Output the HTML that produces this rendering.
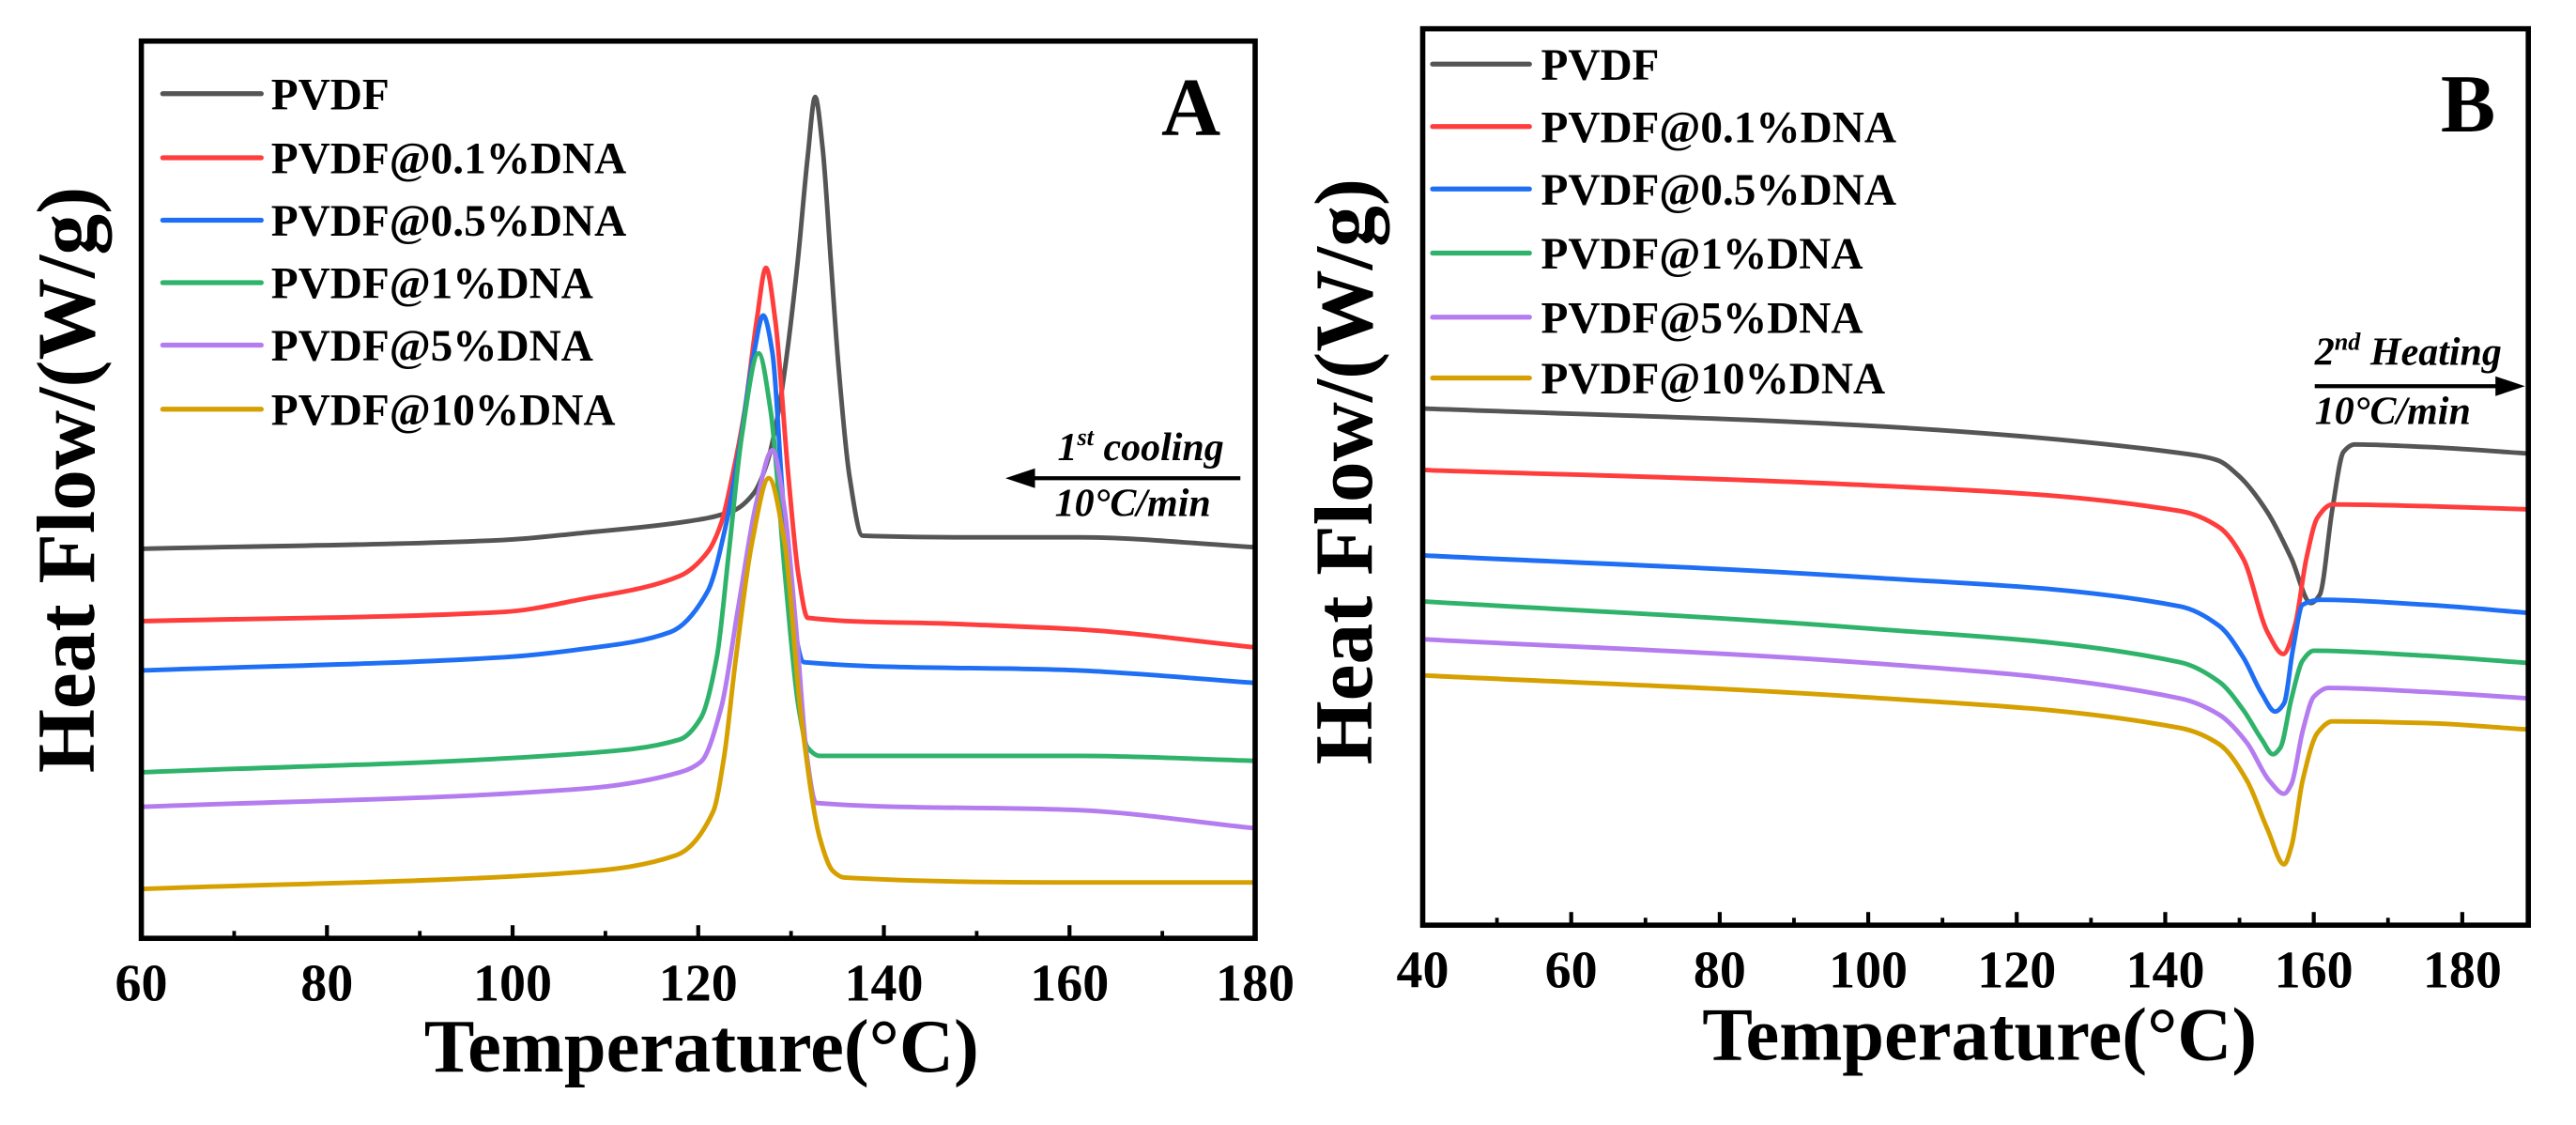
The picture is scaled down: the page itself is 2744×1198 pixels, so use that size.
<!DOCTYPE html>
<html><head><meta charset="utf-8"><style>
html,body{margin:0;padding:0;background:#fff;}
svg{display:block;}
text{font-family:"Liberation Serif",serif;font-weight:bold;fill:#000;}
</style></head><body>
<svg id="fig" width="2744" height="1198" viewBox="0 0 1568 684.6" xmlns="http://www.w3.org/2000/svg"></svg>
<script>
// ---------- Data (temperature °C, heat flow in arbitrary offset units; larger = lower on chart) ----------
const seriesNames = ["PVDF","PVDF@0.1%DNA","PVDF@0.5%DNA","PVDF@1%DNA","PVDF@5%DNA","PVDF@10%DNA"];
const seriesColors = ["#555555","#ff3d3d","#1f6ff5","#2fb36b","#b57cf0","#d6a000"];

const coolT_pvdf = [60,99,107.5,118,123.7,126,127.4,128.5,129.4,130.7,131.8,132.6,133.4,134.3,135.1,136.3,137.7,150,161,180];
const coolV_pvdf = [334,328.6,324.3,318,311,300,282,255,222,160,95,59,90,160,222,290,326,327,327,333];
const coolT_01 = [60,99,107.5,118,121,122.5,123.7,125,126.3,127.3,128.3,129.7,130.8,131.8,147.8,161,180];
const coolV_01 = [378,372.4,364.6,350.5,336,318,289,250,195,163,195,289,350,376,379.7,383,394];
const coolT_05 = [60,99,107.5,117,121,123,124.5,126,127,128,129.1,130.3,131.4,161,180];
const coolV_05 = [408,400,395,384.6,360,319,270,215,192,215,302,380,403,408,415.6];
const coolT_1 = [60,107.5,118,120.3,122,123.3,124.7,126.5,127.8,129.4,130.8,131.8,133.1,161,180];
const coolV_1 = [470,458.5,450,436.7,400,336,265,215,250,353,430,455,460,460,463];
const coolT_5 = [60,107.5,118,120.3,122.5,124.3,126.3,128,129.3,130.6,131.7,132.7,161,180];
const coolV_5 = [491,480,470,463.5,430,370,305,274,310,386,460,488.6,493,504];
const coolT_10 = [60,107.5,117.6,121.6,122.8,124,125.8,127.6,129.3,131.1,133.1,134.5,135.7,161,180];
const coolV_10 = [541,530.6,520.5,494,460,403,330,291,330,436.7,510,530,534,537,537];

const heatT_pvdf = [40,98.6,142,147,150,153.8,157,159.6,160.8,162.5,164,165.5,175,189];
const heatV_pvdf = [248.6,258.7,275.7,280,290,312,340,367,362,310,275,270.5,272,276];
const heatT_01 = [40,98.6,142,147.3,150.5,153.8,155.9,157.5,159,160.5,162.5,175,189];
const heatV_01 = [286,295,311,321,340,385,398,380,340,315,307,308,310];
const heatT_05 = [40,98.6,142,147.3,150.5,153,154.8,156,157.2,158.5,161,175,189];
const heatV_05 = [338,351,369,381,400,422,433,428,395,368,365,368,373];
const heatT_1 = [40,98.6,142,147.3,150.5,153,154.5,155.5,157,158.5,160,175,189];
const heatV_1 = [366,382,403,415,432,450,459,455,425,402,396,399,403.5];
const heatT_5 = [40,98.6,142,147.3,151,154,156,157,158.5,160,162,175,189];
const heatV_5 = [389,403,425,435,452,475,483,477,445,424,418.6,421,425];
const heatT_10 = [40,98.6,142,147.3,151,153.8,156,157,158.5,160.5,162.5,175,189];
const heatV_10 = [411,424,443,453,475,505,526,515,475,446,439,440,444];

const ticksA = [60,80,100,120,140,160,180];
const minorA = [70,90,110,130,150,170];
const ticksB = [40,60,80,100,120,140,160,180];
const minorB = [50,70,90,110,130,150,170,190];

// ---------- Helpers ----------
const NS = "http://www.w3.org/2000/svg";
const svg = document.getElementById("fig");
function el(tag, attrs, parent){
  const e = document.createElementNS(NS, tag);
  for (const k in attrs) e.setAttribute(k, attrs[k]);
  (parent||svg).appendChild(e);
  return e;
}
function linear(d0,d1,r0,r1){ return v => r0 + (v-d0)/(d1-d0)*(r1-r0); }
function monotonePath(pts){
  const n = pts.length;
  const dx=[], dy=[], m=[];
  for (let i=0;i<n-1;i++){ dx[i]=pts[i+1][0]-pts[i][0]; dy[i]=pts[i+1][1]-pts[i][1]; m[i]=dy[i]/dx[i]; }
  const t=[m[0]];
  for (let i=1;i<n-1;i++){
    if (m[i-1]*m[i] <= 0) t[i]=0;
    else { const w1=2*dx[i]+dx[i-1], w2=dx[i]+2*dx[i-1]; t[i]=(w1+w2)/(w1/m[i-1]+w2/m[i]); }
  }
  t[n-1]=m[n-2];
  let d="M"+pts[0][0].toFixed(2)+","+pts[0][1].toFixed(2);
  for (let i=0;i<n-1;i++){
    const h=dx[i]/3;
    d+=" C"+(pts[i][0]+h).toFixed(2)+","+(pts[i][1]+t[i]*h).toFixed(2)+" "+
       (pts[i+1][0]-h).toFixed(2)+","+(pts[i+1][1]-t[i+1]*h).toFixed(2)+" "+
       pts[i+1][0].toFixed(2)+","+pts[i+1][1].toFixed(2);
  }
  return d;
}

function drawPanel(cfg){
  const g = el("g", {});
  
  
  const x = linear(cfg.xmin, cfg.xmax, cfg.left, cfg.left + (cfg.xmax-cfg.xmin)*cfg.pxPerDeg);
  const y = linear(0, 684.6, 0, 684.6);
  cfg.series.forEach((s,i)=>{
    const pts = s.T.map((t,j)=>[x(t), y(s.V[j])]);
    const p = el("path", {d:monotonePath(pts), fill:"none", stroke:seriesColors[i], "stroke-width":2.8, "stroke-linejoin":"round"}, g);
    
    
  });
  const fr = el("rect", {x:cfg.left, y:cfg.top, width:cfg.right-cfg.left, height:cfg.bottom-cfg.top, fill:"none", stroke:"#000", "stroke-width":3.2}, g);
  
  
  cfg.ticks.forEach(t=>{
    const tk = el("line", {x1:x(t), x2:x(t), y1:cfg.bottom, y2:cfg.bottom-8, stroke:"#000", "stroke-width":2.4}, g);
    
    
    const lb = el("text", {x:x(t), y:cfg.tickY, "text-anchor":"middle", "font-size":32}, g);
    lb.textContent = t;
    
    
  });
  cfg.minor.forEach(t=>{
    if (x(t) > cfg.right) return;
    const tk = el("line", {x1:x(t), x2:x(t), y1:cfg.bottom, y2:cfg.bottom-4.5, stroke:"#000", "stroke-width":2.2}, g);
    
    
  });
  cfg.legendRows.forEach((ry,i)=>{
    const lg = el("g", {}, g);
    
    
    el("line", {x1:cfg.legX1, x2:cfg.legX2, y1:ry, y2:ry, stroke:seriesColors[i], "stroke-width":3, "stroke-linecap":"round"}, lg);
    const tx = el("text", {x:cfg.legText, y:ry+9.5, "font-size":27}, lg);
    tx.textContent = seriesNames[i];
  });
  const xt = el("text", {x:cfg.xTitleX, y:cfg.xTitleY, "text-anchor":"middle", "font-size":46}, g);
  xt.textContent = "Temperature(°C)";
  
  
  const yt = el("text", {x:0, y:0, "text-anchor":"middle", "font-size":50, transform:"translate("+cfg.yTitleX+","+cfg.yTitleY+") rotate(-90)"}, g);
  yt.textContent = "Heat Flow/(W/g)";
  
  
  return g;
}

drawPanel({
  name:"panel-a-cooling", xmin:60, xmax:180, left:86, right:764, top:25, bottom:571, pxPerDeg:(764-86)/120,
  series:[{T:coolT_pvdf,V:coolV_pvdf},{T:coolT_01,V:coolV_01},{T:coolT_05,V:coolV_05},{T:coolT_1,V:coolV_1},{T:coolT_5,V:coolV_5},{T:coolT_10,V:coolV_10}],
  ticks:ticksA, minor:minorA, tickY:609,
  legendRows:[57,96,134,172,210,249], legX1:99, legX2:159, legText:165,
  xTitleX:427, xTitleY:652, yTitleX:57, yTitleY:292
});
drawPanel({
  name:"panel-b-heating", xmin:40, xmax:189, left:866, right:1539, top:17.5, bottom:563, pxPerDeg:4.52,
  series:[{T:heatT_pvdf,V:heatV_pvdf},{T:heatT_01,V:heatV_01},{T:heatT_05,V:heatV_05},{T:heatT_1,V:heatV_1},{T:heatT_5,V:heatV_5},{T:heatT_10,V:heatV_10}],
  ticks:ticksB, minor:minorB, tickY:601,
  legendRows:[39,77,115,154,193,230], legX1:872, legX2:931, legText:938,
  xTitleX:1205, xTitleY:645, yTitleX:835, yTitleY:287
});
</script>
<svg style="position:absolute;left:0;top:0" width="2744" height="1198" viewBox="0 0 1568 684.6" xmlns="http://www.w3.org/2000/svg">
  <text x="743" y="82" text-anchor="end" font-size="50">A</text>
  <text x="1519" y="80" text-anchor="end" font-size="50">B</text>
  <g>
    <text x="745" y="280" text-anchor="end" font-size="24" font-style="italic">1<tspan font-size="15" dy="-9">st</tspan><tspan dy="9"> cooling</tspan></text>
    <line x1="755" y1="291" x2="625" y2="291" stroke="#000" stroke-width="2.4"/>
    <polygon points="612,291 630,285 630,297" fill="#000"/>
    <text x="737" y="314" text-anchor="end" font-size="24" font-style="italic">10°C/min</text>
  </g>
  <g>
    <text x="1409" y="222" font-size="24" font-style="italic">2<tspan font-size="15" dy="-9">nd</tspan><tspan dy="9"> Heating</tspan></text>
    <line x1="1409" y1="235" x2="1522" y2="235" stroke="#000" stroke-width="2.4"/>
    <polygon points="1537,235 1519,229 1519,241" fill="#000"/>
    <text x="1409" y="258" font-size="24" font-style="italic">10°C/min</text>
  </g>
</svg>
</body></html>
